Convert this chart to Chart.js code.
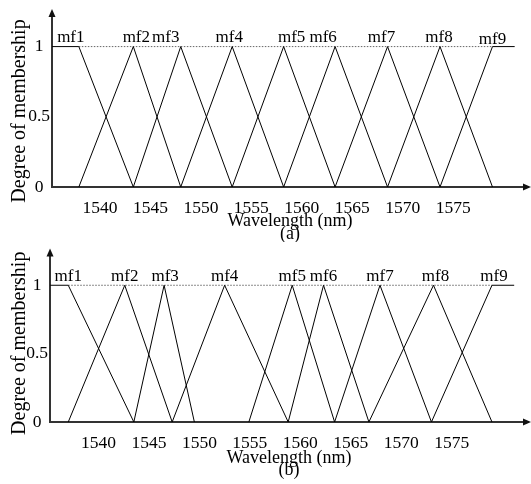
<!DOCTYPE html>
<html>
<head>
<meta charset="utf-8">
<script src="https://cdn.jsdelivr.net/npm/chart.js@4.4.0/dist/chart.umd.min.js"></script>
<style>
  body { margin: 0; background: #fff; }
  canvas { display: block; }
</style>
</head>
<body>
<canvas id="chartA" width="531" height="242"></canvas>
<canvas id="chartB" width="531" height="242"></canvas>
<script>
const mfNames = ["mf1", "mf2", "mf3", "mf4", "mf5", "mf6", "mf7", "mf8", "mf9"];
const xTicks = [1540, 1545, 1550, 1555, 1560, 1565, 1570, 1575];
const yTicks = [0, 0.5, 1];

// (a) evenly spread triangles: left foot, peak, right foot (nm)
const leftA  = [null, 1537.9, 1543.3, 1548.0, 1553.1, 1558.2, 1563.3, 1568.5, 1573.7];
const peakA  = [1537.9, 1543.3, 1548.0, 1553.1, 1558.2, 1563.3, 1568.5, 1573.7, 1578.9];
const rightA = [1543.3, 1548.0, 1553.1, 1558.2, 1563.3, 1568.5, 1573.7, 1578.9, null];
const shoulderA = [1535.2, 1581.1]; // where mf1 / mf9 plateaus start and end

// (b) tuned triangles
const leftB  = [null, 1537.0, 1543.5, 1547.3, 1554.9, 1558.8, 1563.4, 1566.8, 1573.0];
const peakB  = [1537.0, 1542.6, 1546.5, 1552.5, 1559.2, 1562.3, 1567.9, 1573.2, 1579.0];
const rightB = [1543.5, 1547.3, 1549.5, 1558.8, 1563.4, 1566.8, 1573.0, 1579.0, null];
const shoulderB = [1535.2, 1581.2];

Chart.defaults.font.family = '"Liberation Serif", "Times New Roman", serif';
Chart.defaults.color = "#000";

function buildDatasets(left, peak, right, shoulder) {
  const sets = peak.map((p, i) => {
    let pts;
    if (i === 0) {
      pts = [{ x: shoulder[0], y: 1 }, { x: p, y: 1 }, { x: right[i], y: 0 }];
    } else if (i === peak.length - 1) {
      pts = [{ x: left[i], y: 0 }, { x: p, y: 1 }, { x: shoulder[1], y: 1 }];
    } else {
      pts = [{ x: left[i], y: 0 }, { x: p, y: 1 }, { x: right[i], y: 0 }];
    }
    return {
      label: mfNames[i],
      data: pts,
      showLine: true,
      borderColor: "#000",
      borderWidth: 1,
      pointRadius: 0
    };
  });
  // dotted guide at full membership
  sets.push({
    label: "guide",
    data: [{ x: peak[0], y: 1 }, { x: peak[peak.length - 1], y: 1 }],
    showLine: true,
    borderColor: "#666",
    borderWidth: 1,
    borderDash: [1.5, 1.5],
    pointRadius: 0
  });
  return sets;
}

const axisArrows = {
  id: "axisArrows",
  afterDraw(chart) {
    const { ctx, chartArea: a } = chart;
    ctx.save();
    ctx.fillStyle = "#111";
    ctx.beginPath();
    ctx.moveTo(a.right + 3, a.bottom);
    ctx.lineTo(a.right - 5, a.bottom - 3.5);
    ctx.lineTo(a.right - 5, a.bottom + 3.5);
    ctx.closePath();
    ctx.fill();
    ctx.beginPath();
    ctx.moveTo(a.left, a.top - 6);
    ctx.lineTo(a.left - 3.5, a.top + 2);
    ctx.lineTo(a.left + 3.5, a.top + 2);
    ctx.closePath();
    ctx.fill();
    ctx.restore();
  }
};

const mfLabels = {
  id: "mfLabels",
  afterDatasetsDraw(chart, args, opts) {
    const { ctx, scales: { x, y } } = chart;
    ctx.save();
    ctx.font = '17px "Liberation Serif"';
    ctx.fillStyle = "#000";
    ctx.textAlign = "center";
    ctx.textBaseline = "alphabetic";
    opts.peaks.forEach((p, i) => {
      ctx.fillText(mfNames[i], x.getPixelForValue(p) + opts.shift[i], y.getPixelForValue(1) - opts.lift[i]);
    });
    ctx.restore();
  }
};

function makeChart(id, data, opts) {
  return new Chart(document.getElementById(id), {
    type: "scatter",
    data: { datasets: data },
    plugins: [axisArrows, mfLabels],
    options: {
      responsive: false,
      animation: false,
      layout: { padding: { top: opts.top, right: 3, left: 0, bottom: 0 } },
      plugins: {
        legend: { display: false },
        tooltip: { enabled: false },
        mfLabels: { peaks: opts.peaks, shift: opts.shift, lift: opts.lift }
      },
      scales: {
        x: {
          type: "linear",
          min: opts.xMin,
          max: opts.xMax,
          afterBuildTicks: s => { s.ticks = xTicks.map(v => ({ value: v })); },
          afterFit: s => { s.height = opts.xHeight; },
          grid: { display: false, drawTicks: false },
          border: { display: true, color: "#333", width: 2 },
          ticks: { autoSkip: false, maxRotation: 0, padding: opts.tickPad, font: { size: 17.5 }, callback: v => String(v) },
          title: {
            display: true,
            text: ["Wavelength (nm)", opts.tag],
            font: { size: 18, lineHeight: 0.7 },
            padding: { top: 0, bottom: opts.titlePad }
          }
        },
        y: {
          min: 0,
          max: 1.225,
          afterBuildTicks: s => { s.ticks = yTicks.map(v => ({ value: v })); },
          afterFit: s => { s.width = opts.yWidth; },
          grid: { display: false, drawTicks: false },
          border: { display: true, color: "#333", width: 2 },
          ticks: { autoSkip: false, crossAlign: "center", padding: 2, font: { size: 17.5 }, callback: v => String(v) },
          title: {
            display: true,
            // trailing spaces nudge the centred label down a little
            text: opts.yTitle,
            font: { size: 20 },
            padding: { top: 8, bottom: 0 }
          }
        }
      }
    }
  });
}

makeChart("chartA", buildDatasets(leftA, peakA, rightA, shoulderA), {
  top: 15, xHeight: 55, yWidth: 52, tickPad: 10.5, titlePad: 1.5, xMin: 1535.24, xMax: 1582.42, tag: "(a)",
  yTitle: "Degree of membership    ",
  peaks: peakA, shift: [-8, 3, -15, -3, 8, -12, -6, -1, 0], lift: [5, 5, 5, 5, 5, 5, 5, 5, 2.5]
});

makeChart("chartB", buildDatasets(leftB, peakB, rightB, shoulderB), {
  top: 8, xHeight: 62, yWidth: 50, tickPad: 10.5, titlePad: 7, xMin: 1535.19, xMax: 1582.57, tag: "(b)",
  yTitle: "Degree of membership  ",
  peaks: peakB, shift: [0, 0, 1, 0, 0, 0, 0, 2, 2], lift: [4.5, 4.5, 4.5, 4.5, 4.5, 4.5, 4.5, 4.5, 4.5]
});
</script>
</body>
</html>
